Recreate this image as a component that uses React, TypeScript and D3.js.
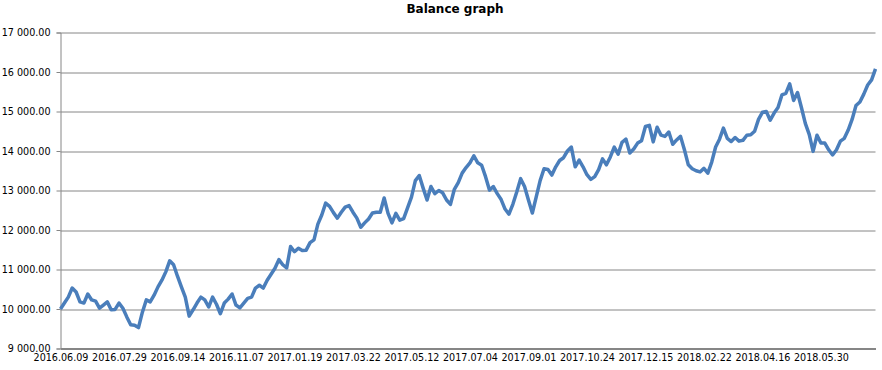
import * as d3 from 'd3';
import { useEffect, useRef } from 'react';

// balance after each trade
const balance = [
  10000, 10150, 10300, 10530, 10430, 10180, 10150, 10380, 10230, 10200,
  10020, 10100, 10180, 9980, 9990, 10150, 10020, 9800, 9600, 9590,
  9530, 9920, 10230, 10180, 10350, 10560, 10730, 10940, 11220, 11120,
  10830, 10560, 10300, 9820, 9980, 10150, 10300, 10230, 10050, 10300,
  10120, 9880, 10150, 10250, 10380, 10100, 10030, 10150, 10270, 10300,
  10530, 10600, 10530, 10730, 10880, 11030, 11250, 11120, 11040, 11580,
  11450, 11540, 11480, 11490, 11680, 11750, 12150, 12380, 12680, 12600,
  12440, 12300, 12450, 12580, 12620, 12450, 12300, 12070, 12180, 12280,
  12430, 12450, 12450, 12810, 12420, 12180, 12420, 12250, 12290, 12560,
  12830, 13250, 13380, 13060, 12760, 13100, 12920, 13000, 12940, 12760,
  12650, 13030, 13200, 13440, 13580, 13700, 13880, 13700, 13640, 13350,
  13010, 13100, 12920, 12770, 12530, 12400, 12650, 12960, 13300, 13100,
  12760, 12430, 12840, 13250, 13550, 13530, 13390, 13600, 13760, 13830,
  14000, 14100, 13600, 13770, 13600, 13400, 13280, 13350, 13530, 13800,
  13650, 13850, 14100, 13920, 14220, 14300, 13950, 14050, 14200, 14260,
  14620, 14650, 14230, 14600, 14400, 14370, 14480, 14170, 14280, 14370,
  14030, 13650, 13550, 13500, 13470, 13560, 13440, 13720, 14100, 14300,
  14580, 14320, 14240, 14340, 14250, 14270, 14400, 14410, 14500, 14800,
  14980, 15000, 14780, 14960, 15100, 15420, 15460, 15700, 15280, 15480,
  15100, 14700, 14420, 13990, 14400, 14200, 14200, 14030, 13900, 14030,
  14250, 14320, 14530, 14800, 15150, 15240, 15440, 15670, 15800, 16080,
];

// one date label every 15 trades
const dateLabels = [
  '2016.06.09', '2016.07.29', '2016.09.14', '2016.11.07', '2017.01.19',
  '2017.03.22', '2017.05.12', '2017.07.04', '2017.09.01', '2017.10.24',
  '2017.12.15', '2018.02.22', '2018.04.16', '2018.05.30',
];
const labelStep = 15;

const yTicks = [9000, 10000, 11000, 12000, 13000, 14000, 15000, 16000, 17000];

export default function App() {
  const svgRef = useRef<SVGSVGElement | null>(null);
  const width = 882;
  const height = 370;

  useEffect(() => {
    const margin = { top: 32.5, right: 6.5, bottom: 21.5, left: 60.5 };
    const innerWidth = width - margin.left - margin.right;
    const innerHeight = height - margin.top - margin.bottom;

    const svg = d3.select(svgRef.current);
    svg.selectAll('*').remove();

    svg.append('rect').attr('width', width).attr('height', height).attr('fill', '#fff');

    svg.append('text')
      .attr('x', 455)
      .attr('y', 13)
      .attr('text-anchor', 'middle')
      .attr('font-family', 'DejaVu Sans, Verdana, sans-serif')
      .attr('font-size', 12)
      .attr('font-weight', 'bold')
      .attr('fill', '#000')
      .text('Balance graph');

    const g = svg.append('g').attr('transform', `translate(${margin.left},${margin.top})`);

    const x = d3.scaleLinear()
      .domain([0, balance.length - 1])
      .range([0, innerWidth]);

    const y = d3.scaleLinear()
      .domain([9000, 17000])
      .range([innerHeight, 0]);

    // gridlines
    g.append('g')
      .selectAll('line')
      .data(yTicks.slice(1))
      .enter()
      .append('line')
      .attr('x1', 0)
      .attr('x2', innerWidth)
      .attr('y1', (d) => Math.round(y(d)) + 0.5)
      .attr('y2', (d) => Math.round(y(d)) + 0.5)
      .attr('stroke', '#868686')
      .attr('stroke-width', 1);

    const yAxis = g.append('g')
      .call(d3.axisLeft(y).tickValues(yTicks).tickSize(4).tickPadding(6)
        .tickFormat((d) => d3.format(',.2f')(d as number).replace(/,/g, ' ')));
    yAxis.select('.domain').attr('stroke', '#868686');
    yAxis.selectAll('.tick line').attr('stroke', '#868686');
    yAxis.selectAll('text')
      .attr('font-family', 'DejaVu Sans, Verdana, sans-serif')
      .attr('font-size', 9.6)
      .attr('fill', '#000');

    const labelIdx = dateLabels.map((_, i) => i * labelStep);
    const xAxis = g.append('g')
      .attr('transform', `translate(0,${innerHeight})`)
      .call(d3.axisBottom(x).tickValues(labelIdx).tickSize(0).tickPadding(6)
        .tickFormat((d) => dateLabels[(d as number) / labelStep]));
    xAxis.select('.domain').attr('stroke', '#868686').attr('stroke-width', 2);
    xAxis.selectAll('text')
      .attr('font-family', 'DejaVu Sans, Verdana, sans-serif')
      .attr('font-size', 9.6)
      .attr('fill', '#000');

    const line = d3.line<number>()
      .x((_, i) => x(i))
      .y((d) => y(d));

    g.append('path')
      .datum(balance)
      .attr('fill', 'none')
      .attr('stroke', '#4a7ebb')
      .attr('stroke-width', 3.5)
      .attr('stroke-linejoin', 'round')
      .attr('d', line);
  }, []);

  return (
    <svg
      ref={svgRef}
      width={width}
      height={height}
      style={{ position: 'absolute', left: 0, top: 0, display: 'block' }}
    />
  );
}
